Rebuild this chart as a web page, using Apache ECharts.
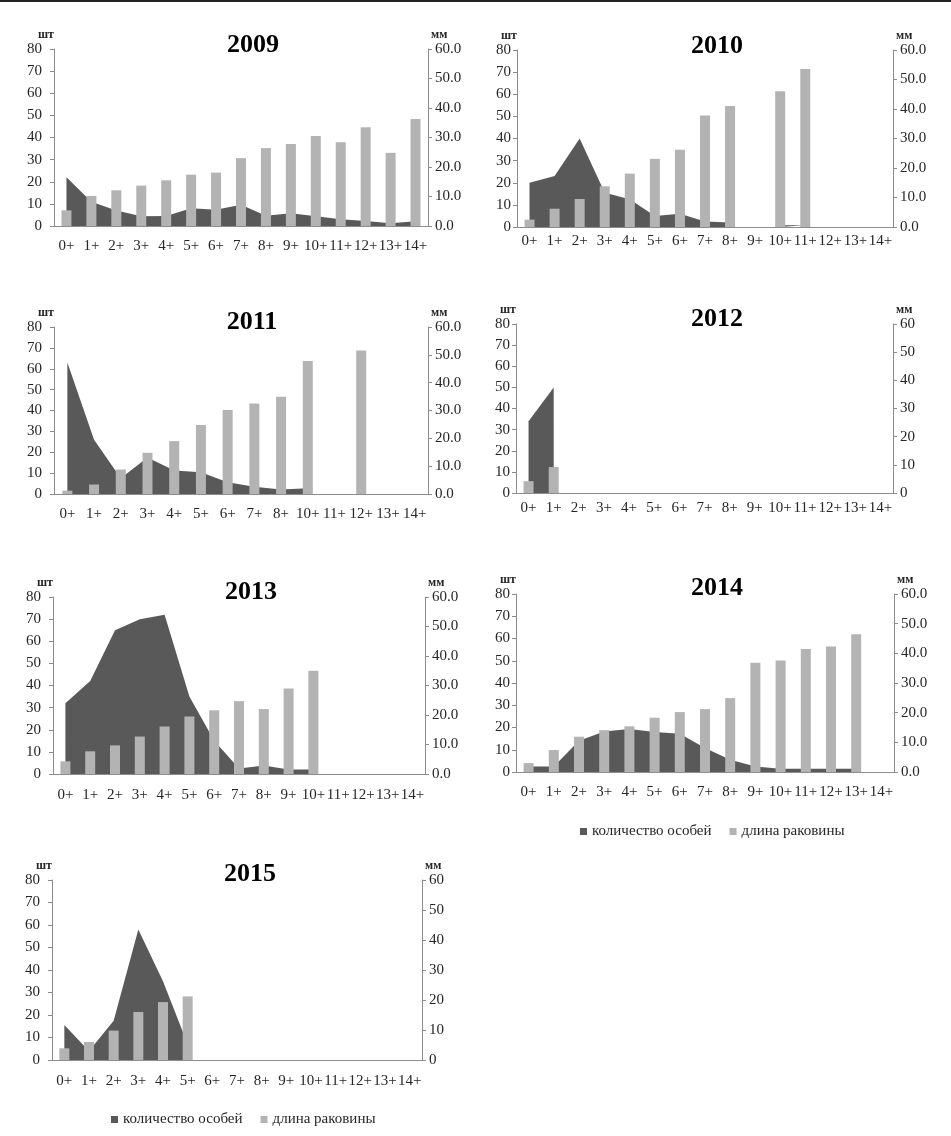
<!DOCTYPE html>
<html><head><meta charset="utf-8">
<script src="https://cdn.jsdelivr.net/npm/echarts@6/dist/echarts.min.js"></script>
<style>html,body{margin:0;padding:0;background:#fff}#c{width:951px;height:1136px}</style>
</head><body><div id="c"></div><script>
// ---- data ----
const ageCats = ['0+','1+','2+','3+','4+','5+','6+','7+','8+','9+','10+','11+','12+','13+','14+'];
const ageCats2011 = ['0+','1+','2+','3+','4+','5+','6+','7+','8+','10+','11+','12+','13+','14+'];
const years = ['2009','2010','2011','2012','2013','2014','2015'];
const seriesNames = ['количество особей','длина раковины'];
const leftTicks = [0,10,20,30,40,50,60,70,80];
const rightTicks = [0,10,20,30,40,50,60];

const count2009 = [22, 11, 7, 4.4, 4.5, 8, 7.3, 9.6, 4.6, 5.8, 4.4, 3.1, 2.3, 1.2, 2.1];
const len2009   = [5.3, 10.2, 12.1, 13.7, 15.5, 17.4, 18.1, 23.0, 26.4, 27.8, 30.5, 28.4, 33.5, 24.8, 36.3];

const count2010 = [20, 23, 40, 15.5, 12.5, 5, 6, 2.5, 2, null, 0.8, 0.8, null, null, null];
const len2010   = [2.5, 6.2, 9.5, 13.8, 18.1, 23.1, 26.2, 37.8, 41.0, null, 46.0, 53.6, null, null, null];

const count2011 = [63, 26, 7.5, 17.5, 11.2, 10.4, 5.6, 3.5, 2.2, 2.7, null, null, null, null];
const len2011   = [1.2, 3.4, 8.8, 14.8, 19.0, 24.8, 30.2, 32.5, 34.9, 47.8, null, 51.6, null, null];

const count2012 = [34, 50, null, null, null, null, null, null, null, null, null, null, null, null, null];
const len2012   = [4.2, 9.2, null, null, null, null, null, null, null, null, null, null, null, null, null];

const count2013 = [32, 42, 65, 70, 72, 35, 15, 2.5, 3.8, 2, 2, null, null, null, null];
const len2013   = [4.3, 7.7, 9.7, 12.7, 16.1, 19.5, 21.6, 24.7, 22.0, 29.0, 35.0, null, null, null, null];

const count2014 = [2.5, 2.5, 14, 18.2, 19.3, 18, 17.2, 10.8, 5.5, 2.5, 1.5, 1.5, 1.5, 1.5, null];
const len2014   = [3.0, 7.4, 11.9, 14.1, 15.4, 18.3, 20.2, 21.2, 24.9, 36.8, 37.6, 41.5, 42.3, 46.4, null];

const count2015 = [15.6, 4, 17.5, 58, 35, 7, null, null, null, null, null, null, null, null, null];
const len2015   = [3.9, 6.0, 9.8, 16.0, 19.3, 21.2, null, null, null, null, null, null, null, null, null];

// ---- layout / style ----
const FONT = "'Liberation Serif', 'Times New Roman', serif";
const DARK = '#595959', LIGHT = '#b3b3b3', AXIS = '#8c8c8c', TXT = '#262626';

const panels = [
  {year: years[0], cats: ageCats,     cnt: count2009, len: len2009, g:[54,49,374,177],  t:[248,41],  dec:true,  lm:12, xm:13},
  {year: years[1], cats: ageCats,     cnt: count2010, len: len2010, g:[517,50,376,177], t:[712,42],  dec:true,  lm:6,  xm:7},
  {year: years[2], cats: ageCats2011, cnt: count2011, len: len2011, g:[54,327,374,167], t:[247,318], dec:true,  lm:12, xm:13},
  {year: years[3], cats: ageCats,     cnt: count2012, len: len2012, g:[516,324,377,169],t:[712,315], dec:false, lm:6,  xm:8},
  {year: years[4], cats: ageCats,     cnt: count2013, len: len2013, g:[53,597,372,177], t:[246,588], dec:true,  lm:12, xm:14},
  {year: years[5], cats: ageCats,     cnt: count2014, len: len2014, g:[516,594,378,178],t:[712,584], dec:true,  lm:6,  xm:13},
  {year: years[6], cats: ageCats,     cnt: count2015, len: len2015, g:[52,880,370,180], t:[245,870], dec:false, lm:12, xm:14}
];

const grid = [], xAxis = [], yAxis = [], series = [], title = [];
panels.forEach((p, i) => {
  grid.push({left: p.g[0], top: p.g[1], width: p.g[2], height: p.g[3], containLabel: false});
  title.push({text: p.year, left: p.t[0], top: p.t[1] - 14, textAlign: 'center',
    textStyle: {fontFamily: FONT, fontWeight: 'bold', fontSize: 26, color: '#000'}});
  xAxis.push({type: 'category', gridIndex: i, data: p.cats, boundaryGap: true,
    axisLine: {lineStyle: {color: AXIS}}, axisTick: {length: 4, lineStyle: {color: AXIS}},
    axisLabel: {interval: 0, margin: p.xm, fontFamily: FONT, fontSize: 15, color: TXT}});
  yAxis.push({type: 'value', gridIndex: i, position: 'left', min: leftTicks[0], max: leftTicks[leftTicks.length-1], interval: 10,
    name: 'шт', nameLocation: 'end', nameGap: 8,
    nameTextStyle: {fontFamily: FONT, fontWeight: 'bold', fontSize: 12, color: TXT, align: 'right'},
    axisLine: {show: true, lineStyle: {color: AXIS}}, axisTick: {show: true, length: 4, lineStyle: {color: AXIS}},
    splitLine: {show: false},
    axisLabel: {margin: p.lm, fontFamily: FONT, fontSize: 15, color: TXT}});
  yAxis.push({type: 'value', gridIndex: i, position: 'right', min: rightTicks[0], max: rightTicks[rightTicks.length-1], interval: 10,
    name: 'мм', nameLocation: 'end', nameGap: 8,
    nameTextStyle: {fontFamily: FONT, fontWeight: 'bold', fontSize: 12, color: TXT, align: 'left', padding: [0,0,0,3]},
    axisLine: {show: true, lineStyle: {color: AXIS}}, axisTick: {show: true, length: 4, lineStyle: {color: AXIS}},
    splitLine: {show: false},
    axisLabel: {margin: 7, fontFamily: FONT, fontSize: 15, color: TXT,
      formatter: p.dec ? (v => v.toFixed(1)) : (v => String(v))}});
  series.push({name: seriesNames[0], type: 'line', xAxisIndex: i, yAxisIndex: 2*i, data: p.cnt,
    symbol: 'none', showSymbol: false, connectNulls: false, color: DARK,
    itemStyle: {color: DARK}, lineStyle: {width: 0, opacity: 0}, areaStyle: {color: DARK, opacity: 1}, z: 2});
  series.push({name: seriesNames[1], type: 'bar', xAxisIndex: i, yAxisIndex: 2*i+1, data: p.len,
    barWidth: 10, color: LIGHT, itemStyle: {color: LIGHT}, z: 3});
});

const legendCommon = {data: seriesNames, icon: 'rect', itemWidth: 7, itemHeight: 7, itemGap: 18,
  textStyle: {fontFamily: FONT, fontSize: 15, color: TXT}, selectedMode: false};
const legend = [
  Object.assign({left: 575, top: 819}, legendCommon),
  Object.assign({left: 106, top: 1107}, legendCommon)
];

const chart = echarts.init(document.getElementById('c'), null, {renderer: 'canvas'});
chart.setOption({
  animation: false, backgroundColor: '#fff',
  title, grid, xAxis, yAxis, series, legend,
  graphic: [{type: 'rect', left: 0, top: 0, shape: {width: 951, height: 2}, style: {fill: '#222'}}]
});
</script></body></html>
